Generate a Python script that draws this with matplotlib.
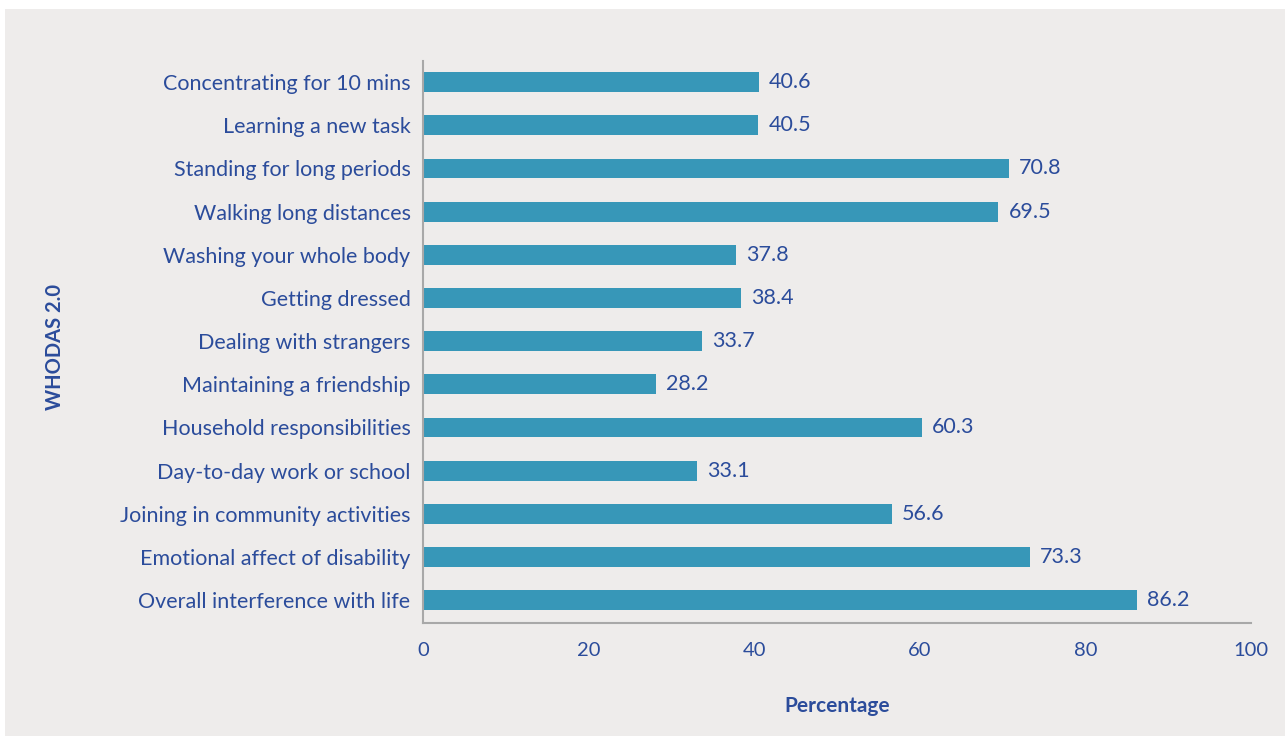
import numpy as np
import matplotlib.pyplot as plt
from matplotlib.patches import Rectangle

# Data
activities = ['Concentrating for 10 mins', 'Learning a new task', 'Standing for long periods',
              'Walking long distances', 'Washing your whole body', 'Getting dressed',
              'Dealing with strangers', 'Maintaining a friendship', 'Household responsibilities',
              'Day-to-day work or school', 'Joining in community activities',
              'Emotional affect of disability', 'Overall interference with life']
percent = [40.6, 40.5, 70.8, 69.5, 37.8, 38.4, 33.7, 28.2, 60.3, 33.1, 56.6, 73.3, 86.2]
x_ticks = [0, 20, 40, 60, 80, 100]

bar_col = '#3797b8'
txt_col = '#2b4c9b'
panel_col = '#eeeceb'

plt.rcParams['font.family'] = ['Lato', 'DejaVu Sans']

fig = plt.figure(figsize=(12.85, 7.36), dpi=100)
fig.patch.set_facecolor('white')
fig.patches.append(Rectangle((5 / 1285, 0), 1, 1 - 9 / 736, transform=fig.transFigure,
                             facecolor=panel_col, edgecolor='none', zorder=-1))

ax = fig.add_axes([423 / 1285, 1 - 623 / 736, (1251 - 423) / 1285, (623 - 61) / 736])
ax.set_facecolor('none')

y = np.arange(len(activities))
ax.barh(y, percent, height=0.46, color=bar_col)
for yi, v in zip(y, percent):
    ax.text(v + 1.2, yi, f'{v:.1f}', va='center', ha='left', fontsize=15.5, color=txt_col)

ax.set_yticks(y)
ax.set_yticklabels(activities)
ax.set_ylim(len(activities) - 0.47, -0.49)
ax.set_xlim(0, 100)
ax.set_xticks(x_ticks)
ax.tick_params(axis='both', length=0, labelcolor=txt_col)
ax.tick_params(axis='x', pad=14, labelsize=14.5)
ax.tick_params(axis='y', pad=9, labelsize=15.5)

for s in ['top', 'right']:
    ax.spines[s].set_visible(False)
for s in ['left', 'bottom']:
    ax.spines[s].set_color('#a8a8a8')
    ax.spines[s].set_linewidth(1.5)

ax.set_xlabel('Percentage', fontsize=15, fontweight='bold', color=txt_col, labelpad=26)
fig.text(55 / 1285, 1 - 347 / 736, 'WHODAS 2.0', rotation=90, ha='center', va='center',
         fontsize=14.5, fontweight='bold', color=txt_col)

plt.savefig('out.png', dpi=100)
